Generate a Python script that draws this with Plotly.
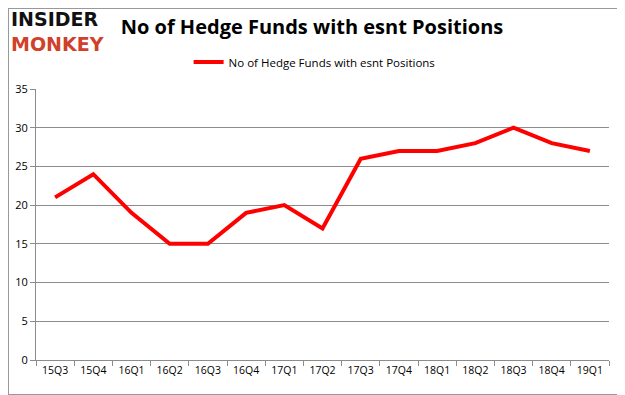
import plotly.graph_objects as go

quarters = ["15Q3", "15Q4", "16Q1", "16Q2", "16Q3", "16Q4", "17Q1", "17Q2",
            "17Q3", "17Q4", "18Q1", "18Q2", "18Q3", "18Q4", "19Q1"]
funds = [21, 24, 19, 15, 15, 19, 20, 17, 26, 27, 27, 28, 30, 28, 27]
series_name = "No of Hedge Funds with esnt Positions"
y_ticks = [0, 5, 10, 15, 20, 25, 30, 35]

OFF = 8  # page body margin
W, H = 625 - OFF, 395 - OFF
L, R, T, B = 36 - OFF, 16, 89 - OFF, 35
PW, PH = W - L - R, H - T - B

fig = go.Figure()
fig.add_trace(go.Scatter(
    x=quarters, y=funds, mode="lines", name=series_name,
    line=dict(color="#ff0000", width=4),
))

grid = "#8c8c8c"
fig.update_layout(
    width=W, height=H,
    margin=dict(l=L, r=R, t=T, b=B, autoexpand=False),
    paper_bgcolor="white", plot_bgcolor="white",
    font=dict(family="Open Sans", size=11, color="#000"),
    showlegend=True,
    legend=dict(orientation="h", x=(308 - OFF) / W, xanchor="center",
                yref="container", y=1 - (62 - OFF) / H, yanchor="middle",
                font=dict(size=11.5), itemwidth=30, bgcolor="rgba(0,0,0,0)"),
    title=dict(text="<b>No of Hedge Funds with esnt Positions</b>",
               xref="container", x=(312 - OFF) / W, xanchor="center",
               yref="container", y=1 - (27 - OFF) / H, yanchor="middle",
               font=dict(family="Open Sans", size=20, color="#000")),
    xaxis=dict(showgrid=False, showline=True, linecolor=grid, linewidth=1,
               range=[-0.5, len(quarters) - 0.5],
               ticks="outside", ticklen=5, tickcolor=grid, tickson="boundaries",
               tickfont=dict(size=10.5)),
    yaxis=dict(range=[0, 35], tickvals=y_ticks, showgrid=True, gridcolor=grid,
               gridwidth=1, showline=True, linecolor=grid, ticks="outside",
               ticklen=5, tickcolor=grid, tickfont=dict(size=11), zeroline=False),
)
fig.add_shape(type="rect", xref="paper", yref="paper",
              x0=-L / PW, x1=1 + R / PW, y0=-B / PH, y1=1 + T / PH,
              line=dict(color="#999999", width=2))

fig.add_annotation(
    text="<b>INSIDER</b><br><b><span style='color:#d0402a'>MONKEY</span></b>",
    xref="paper", yref="paper", align="left",
    x=-(L - 1) / PW, y=1 + (T - 24) / PH, xanchor="left", yanchor="middle",
    showarrow=False,
    font=dict(family="DejaVu Sans", size=19, color="#111111"))

fig.write_html("out.html")
